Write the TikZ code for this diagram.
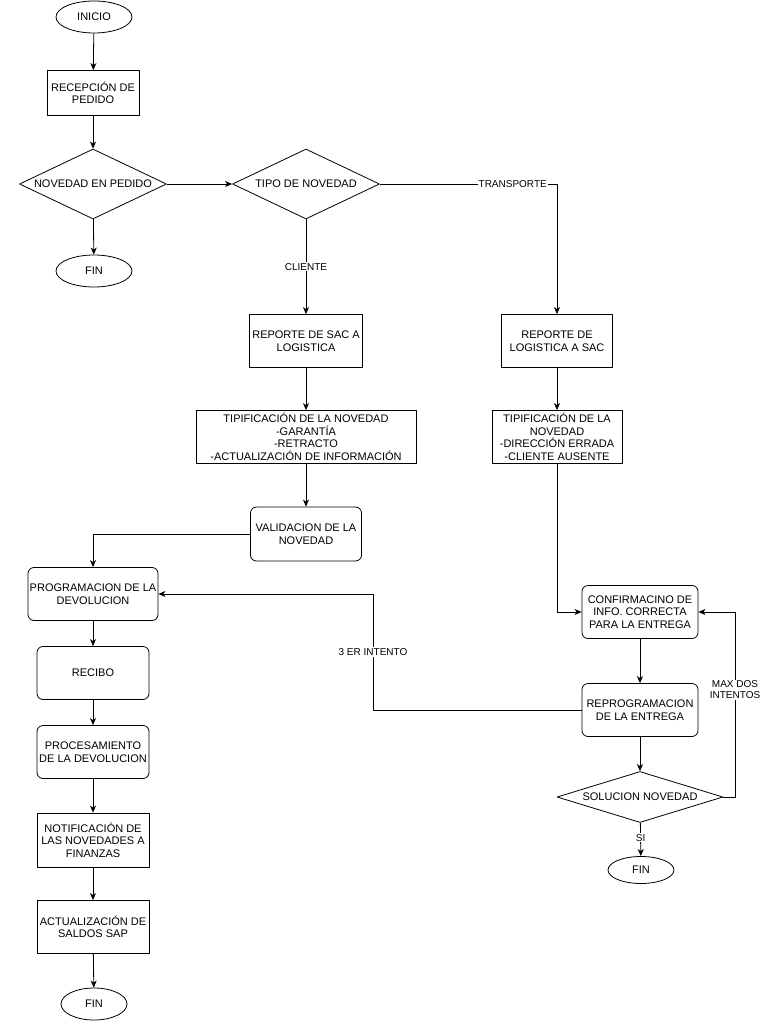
\documentclass[tikz,border=0pt]{standalone}
\usepackage{fontspec}
\setmainfont{Liberation Sans}
\usetikzlibrary{shapes.geometric,arrows.meta}
\begin{document}
\begin{tikzpicture}[x=1pt,y=-1pt,line join=round,thick,>={Stealth[length=7pt,width=6pt,inset=2pt]},
	every node/.style={font=\fontsize{11}{12.5}\selectfont,align=center,inner sep=1pt},
	terminal/.style={draw,ellipse,minimum width=76pt,minimum height=32pt},
	caja/.style={draw,rectangle},
	cajar/.style={draw,rectangle,rounded corners=6pt},
	decision/.style={draw,diamond,inner sep=0pt,shape aspect=2.2},
	etiqueta/.style={fill=white,font=\fontsize{10}{11}\selectfont,inner sep=1pt}]
	\useasboundingbox (0,0) rectangle (768,1024);
	%Columna inicial
	\node[terminal] (ini) at (94,17) {INICIO};
	\node[caja,minimum width=92pt,minimum height=45pt] (recep) at (93,93) {RECEPCIÓN DE\\PEDIDO};
	\node[decision,minimum width=147pt,minimum height=70pt] (nov) at (93,184) {NOVEDAD EN PEDIDO};
	\node[terminal] (fin1) at (94,271) {FIN};
	\node[decision,minimum width=147pt,minimum height=70pt] (tipo) at (306,184) {TIPO DE NOVEDAD};
	%Rama cliente
	\node[caja,minimum width=113pt,minimum height=53pt] (repsac) at (306,341) {REPORTE DE SAC A\\LOGISTICA};
	\node[caja,minimum width=220pt,minimum height=53pt] (tipcli) at (306,437) {TIPIFICACIÓN DE LA NOVEDAD\\-GARANTÍA\\-RETRACTO\\-ACTUALIZACIÓN DE INFORMACIÓN};
	\node[cajar,minimum width=111pt,minimum height=54pt] (valid) at (306,534) {VALIDACION DE LA\\NOVEDAD};
	\node[cajar,minimum width=130pt,minimum height=53pt] (prog) at (93,594) {PROGRAMACION DE LA\\DEVOLUCION};
	\node[cajar,minimum width=112pt,minimum height=53pt] (recibo) at (93,673) {RECIBO};
	\node[cajar,minimum width=112pt,minimum height=53pt] (proc) at (93,752) {PROCESAMIENTO\\DE LA DEVOLUCION};
	\node[caja,minimum width=112pt,minimum height=54pt] (notif) at (93,840) {NOTIFICACIÓN DE\\LAS NOVEDADES A\\FINANZAS};
	\node[caja,minimum width=112pt,minimum height=53pt] (actual) at (93,927) {ACTUALIZACIÓN DE\\SALDOS SAP};
	\node[terminal,minimum width=66pt] (fin2) at (94,1004) {FIN};
	%Rama transporte
	\node[caja,minimum width=111pt,minimum height=53pt] (replog) at (557,341) {REPORTE DE\\LOGISTICA A SAC};
	\node[caja,minimum width=130pt,minimum height=53pt] (tiptra) at (557,437) {TIPIFICACIÓN DE LA\\NOVEDAD\\-DIRECCIÓN ERRADA\\-CLIENTE AUSENTE};
	\node[cajar,minimum width=116pt,minimum height=53pt] (conf) at (640,612) {CONFIRMACINO DE\\INFO. CORRECTA\\PARA LA ENTREGA};
	\node[cajar,minimum width=116pt,minimum height=53pt] (repro) at (640,710) {REPROGRAMACION\\DE LA ENTREGA};
	\node[decision,shape aspect=3.3,minimum width=166pt,minimum height=51pt] (sol) at (640,797) {SOLUCION NOVEDAD};
	\node[terminal,minimum width=66pt,minimum height=27pt] (fin3) at (641,870) {FIN};
	\coordinate (c3) at (373,710);
	\coordinate (cmax) at (735,797);
	%Conectores
	\draw[->] (ini) -- (recep);
	\draw[->] (recep) -- (nov);
	\draw[->] (nov) -- (fin1);
	\draw[->] (nov) -- (tipo);
	\draw[->] (tipo) -- node[etiqueta]{CLIENTE} (repsac);
	\draw[->] (tipo.east) -- node[etiqueta,pos=0.75]{TRANSPORTE} (tipo.east -| replog) -- (replog);
	\draw[->] (repsac) -- (tipcli);
	\draw[->] (tipcli) -- (valid);
	\draw[->] (valid.west) -| (prog.north);
	\foreach \a/\b in {prog/recibo,recibo/proc,proc/notif,notif/actual,actual/fin2} \draw[->] (\a) -- (\b);
	\draw[->] (replog) -- (tiptra);
	\draw[->] (tiptra.south) |- (conf.west);
	\draw[->] (conf) -- (repro);
	\draw[->] (repro) -- (sol);
	\draw[->] (repro.west) -- (c3) |- node[etiqueta,pos=0.25]{3 ER INTENTO} (prog.east);
	\draw[->] (sol.east) -- (cmax) |- node[etiqueta,pos=0.29]{MAX DOS\\INTENTOS} (conf.east);
	\draw[->] (sol) -- node[etiqueta,pos=0.45]{SI} (fin3);
\end{tikzpicture}
\end{document}
